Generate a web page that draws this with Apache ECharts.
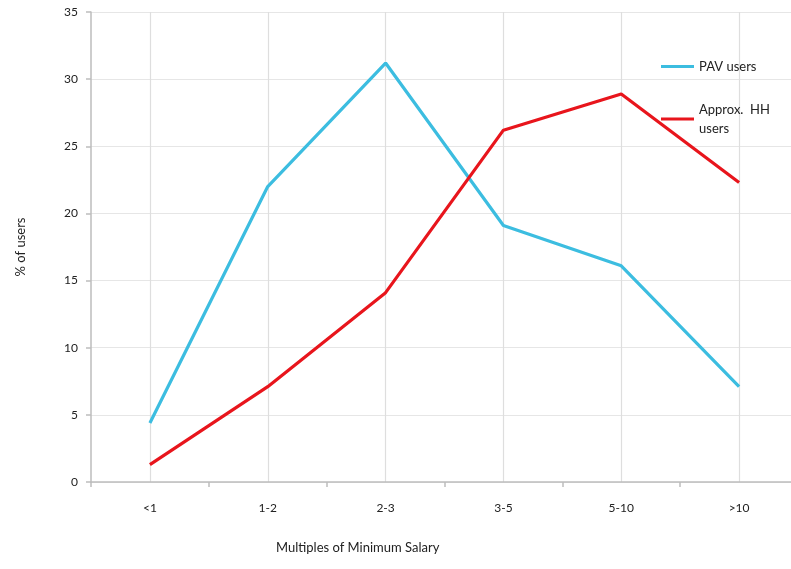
<!DOCTYPE html>
<html><head><meta charset="utf-8">
<script src="https://cdn.jsdelivr.net/npm/echarts@6/dist/echarts.min.js"></script>
<style>html,body{margin:0;padding:0;background:#fff;overflow:hidden}#c{width:800px;height:569px}</style>
</head><body><div id="c"></div>
<script>
const categories = ['<1', '1-2', '2-3', '3-5', '5-10', '>10'];
const pavUsers = [4.4, 22.0, 31.2, 19.1, 16.1, 7.1];
const hhUsers = [1.3, 7.1, 14.1, 26.2, 28.9, 22.3];
const seriesNames = ['PAV users', 'Approx.  HH\nusers'];
const yTicks = { min: 0, max: 35, interval: 5 };

const font = 'Lato, "Open Sans", sans-serif';
const chart = echarts.init(document.getElementById('c'));
chart.setOption({
  animation: false,
  backgroundColor: '#fff',
  textStyle: { fontFamily: font },
  grid: { left: 91, top: 12, right: 2, bottom: 87, containLabel: false },
  legend: {
    orient: 'vertical', left: 656, top: 52, itemWidth: 33, itemHeight: 3, itemGap: 24,
    icon: 'rect',
    textStyle: { fontFamily: font, fontSize: 13, color: '#222', lineHeight: 19 },
    data: seriesNames
  },
  xAxis: {
    type: 'category', data: categories, boundaryGap: true,
    axisLine: { lineStyle: { color: '#bdbdbd', width: 1.5 } },
    axisTick: { show: true, length: 5, lineStyle: { color: '#bdbdbd', width: 1.5 } },
    axisLabel: { margin: 20, fontSize: 12, color: '#222', fontFamily: font },
    splitLine: { show: true, alignWithLabel: true, lineStyle: { color: '#dedede', width: 1.2 } }
  },
  yAxis: {
    type: 'value', min: yTicks.min, max: yTicks.max, interval: yTicks.interval,
    axisLine: { show: true, lineStyle: { color: '#bdbdbd', width: 1.5 } },
    axisTick: { show: true, length: 5, lineStyle: { color: '#bdbdbd', width: 1.5 } },
    axisLabel: { margin: 13, fontSize: 12, color: '#222', fontFamily: font },
    splitLine: { show: true, lineStyle: { color: '#e6e6e6', width: 1.2 } },
    name: '% of users', nameLocation: 'middle', nameGap: 64, nameRotate: 90,
    nameTextStyle: { fontSize: 13, color: '#222', fontFamily: font }
  },
  graphic: [{
    type: 'text', left: 276, top: 541,
    style: { text: 'Multiples of Minimum Salary', fontSize: 13, fill: '#222', fontFamily: font }
  }],
  series: [
    { name: seriesNames[0], type: 'line', data: pavUsers, symbol: 'none',
      lineStyle: { color: '#3cbde0', width: 3.2 }, itemStyle: { color: '#3cbde0' } },
    { name: seriesNames[1], type: 'line', data: hhUsers, symbol: 'none',
      lineStyle: { color: '#e8151c', width: 3.2 }, itemStyle: { color: '#e8151c' } }
  ]
});
</script></body></html>
